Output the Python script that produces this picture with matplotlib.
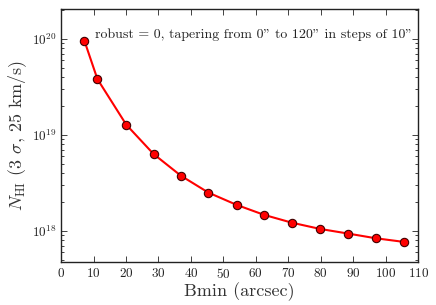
import matplotlib
matplotlib.use("Agg")
import matplotlib.pyplot as plt
from matplotlib.ticker import LogLocator, MultipleLocator, NullFormatter

plt.rcParams['font.family'] = 'serif'
plt.rcParams['font.serif'] = ['cmr10']
plt.rcParams['mathtext.fontset'] = 'cm'
plt.rcParams['axes.formatter.use_mathtext'] = True
plt.rcParams['axes.unicode_minus'] = False

bmin = [7.2, 11.2, 20.1, 28.5, 36.9, 45.4, 54.1, 62.6, 71.1, 79.8, 88.4, 96.9, 105.5]
nhi = [9.6e19, 3.83e19, 1.28e19, 6.34e18, 3.77e18, 2.51e18, 1.87e18, 1.47e18,
       1.22e18, 1.05e18, 9.4e17, 8.4e17, 7.7e17]
xticks = [0, 10, 20, 30, 40, 50, 60, 70, 80, 90, 100, 110]
annotation = 'robust = 0, tapering from 0" to 120" in steps of 10"'

fig = plt.figure(figsize=(4.36, 3.05), dpi=100)
ax = fig.add_axes([0.140, 0.141, 0.819, 0.829])
ax.plot(bmin, nhi, '-', color='red', lw=1.5, marker='o', ms=6,
        mfc='red', mec='#400000', mew=0.8)
ax.set_yscale('log')
ax.set_xlim(0, 110)
ax.set_ylim(4.75e17, 2.05e20)
ax.set_xticks(xticks)
ax.yaxis.set_major_locator(LogLocator(base=10, numticks=10))
ax.yaxis.set_minor_locator(LogLocator(base=10, subs=range(2, 10), numticks=20))
ax.yaxis.set_minor_formatter(NullFormatter())
ax.tick_params(which='both', direction='in', top=True, right=True, labelsize=9.5, colors='#222222')
ax.tick_params(which='major', length=4, width=0.6)
ax.tick_params(which='minor', length=2, width=0.6)
for s in ax.spines.values():
    s.set_linewidth(1.0)
    s.set_color('#222222')
ax.set_xlabel('Bmin (arcsec)', fontsize=13, color='#333333', labelpad=1)
ax.set_ylabel(r'$N_{\rm HI}$ (3 $\sigma$, 25 km/s)', fontsize=13, color='#333333', labelpad=2)
ax.text(0.983, 0.885, annotation, transform=ax.transAxes, ha='right', va='baseline',
        fontsize=10, color='#222222')
fig.savefig('out.png', dpi=100)
